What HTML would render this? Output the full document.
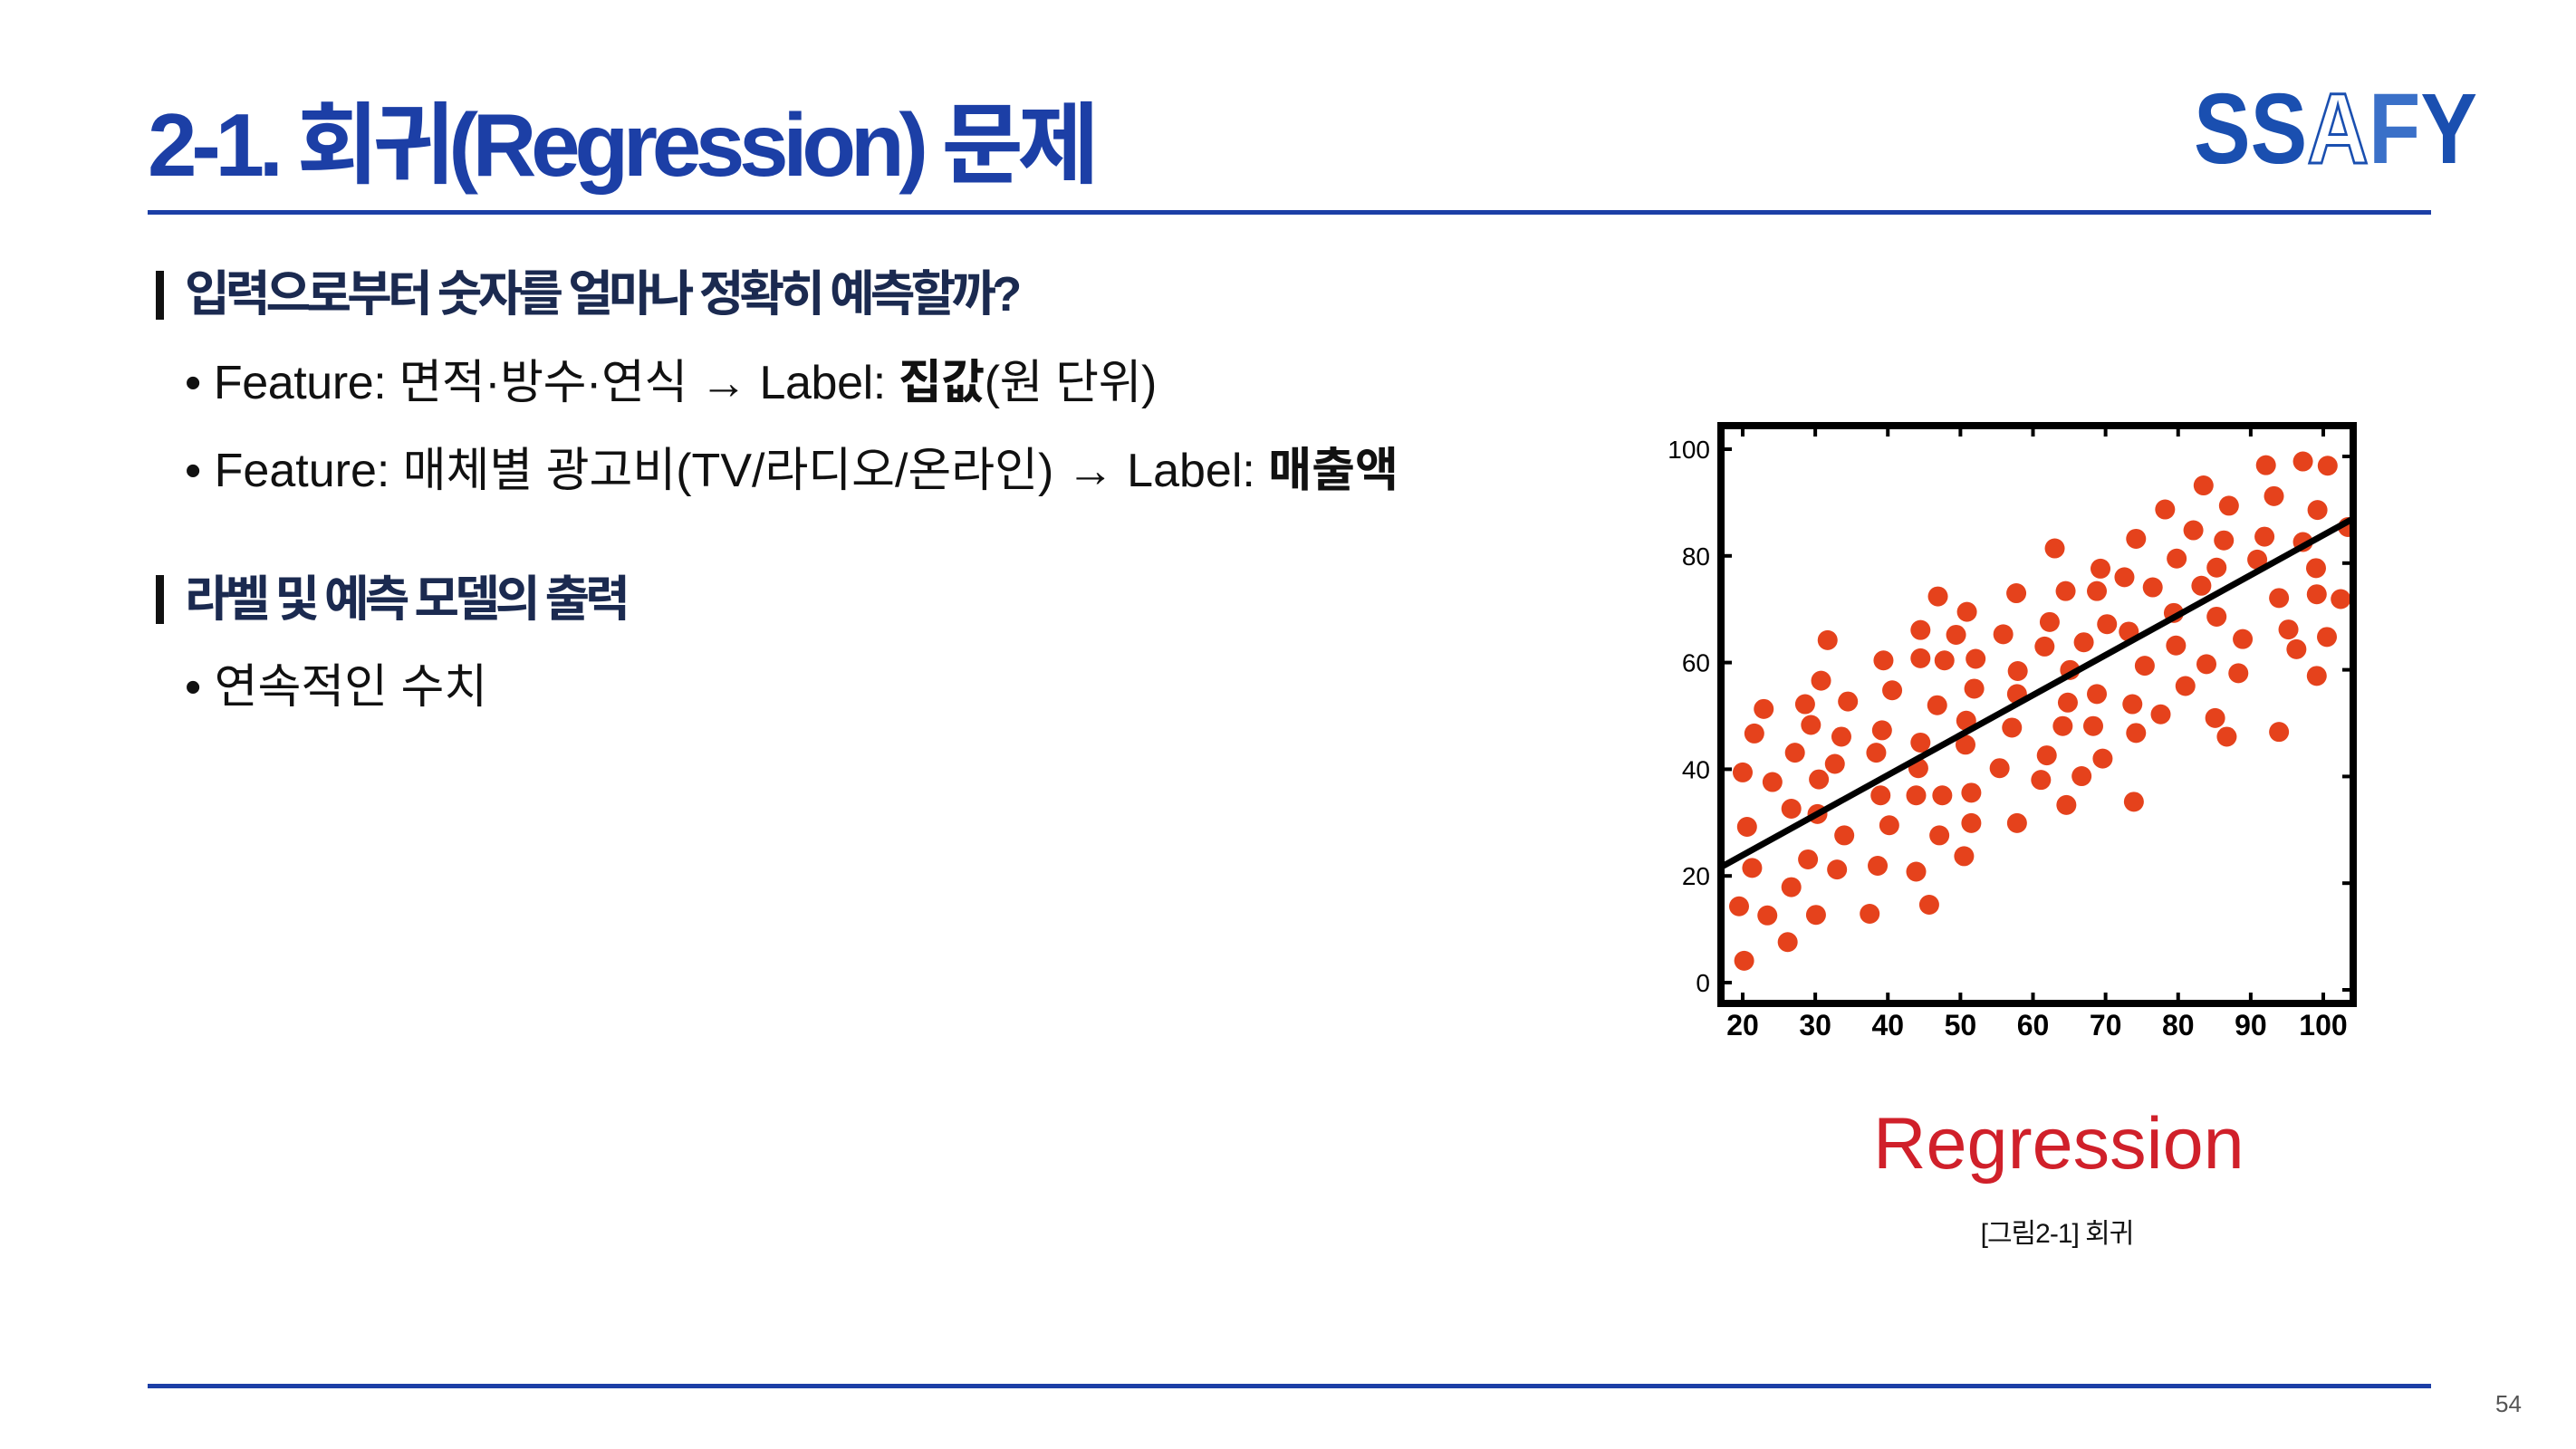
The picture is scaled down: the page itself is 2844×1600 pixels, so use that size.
<!DOCTYPE html>
<html><head><meta charset="utf-8"><style>
body{margin:0;width:2844px;height:1600px;background:#fff;position:relative;overflow:hidden;font-family:"Liberation Sans","Noto Sans CJK KR",sans-serif}
.abs{position:absolute;white-space:nowrap}
</style></head><body>
<div class="abs" style="left:163px;top:100px;font-size:98px;font-weight:bold;color:#1c3fa6;letter-spacing:-6.3px;line-height:120px">2-1. 회귀(Regression) 문제</div>
<svg class="abs" style="left:2420px;top:90px" width="330" height="100">
<text x="2" y="90" font-family="Liberation Sans" font-weight="bold" font-size="110" fill="#1a4fb0" textLength="313" lengthAdjust="spacingAndGlyphs">SS<tspan fill="#fff" stroke="#1a4fb0" stroke-width="3">A</tspan><tspan fill="#3a70c8">F</tspan>Y</text></svg>
<div class="abs" style="left:163px;top:232px;width:2521px;height:5px;background:#1c3fa6"></div>
<div class="abs" style="left:163px;top:1528px;width:2521px;height:5px;background:#1c3fa6"></div>
<div class="abs" style="left:2755px;top:1535px;font-size:26px;color:#555">54</div>

<div class="abs" style="left:172px;top:299px;width:9px;height:54px;background:#111"></div>
<div class="abs" style="left:204px;top:292px;font-size:54px;font-weight:bold;color:#1b2a50;letter-spacing:-4.9px;line-height:66px">입력으로부터 숫자를 얼마나 정확히 예측할까?</div>
<div class="abs" style="left:204px;top:390px;font-size:52px;color:#111;letter-spacing:-0.4px;line-height:66px">• Feature: 면적·방수·연식 → Label: <b>집값</b>(원 단위)</div>
<div class="abs" style="left:204px;top:487px;font-size:52px;color:#111;letter-spacing:0px;line-height:66px">• Feature: 매체별 광고비(TV/라디오/온라인) → Label: <b>매출액</b></div>
<div class="abs" style="left:172px;top:635px;width:9px;height:54px;background:#111"></div>
<div class="abs" style="left:204px;top:629px;font-size:54px;font-weight:bold;color:#1b2a50;letter-spacing:-5px;line-height:66px">라벨 및 예측 모델의 출력</div>
<div class="abs" style="left:204px;top:726px;font-size:52px;color:#111;letter-spacing:0px;line-height:66px">• 연속적인 수치</div>

<svg class="abs" id="chart" style="left:0;top:0" width="2844" height="1600"></svg>
<div class="abs" style="left:2068px;top:1213px;width:400px;text-align:center;font-size:81px;color:#d0202a;line-height:100px">Regression</div>
<div class="abs" style="left:2071px;top:1337px;width:400px;text-align:center;font-size:30px;color:#111;letter-spacing:-1px">[그림2-1] 회귀</div>
<script>
const xTicks=[20,30,40,50,60,70,80,90,100];
const yTicks=[0,20,40,60,80,100];
const xs=[20,20.6,19.5,20.2,21.6,22.9,21.3,24.1,23.4,26.2,26.7,26.7,27.2,28.6,29.4,30.5,30.8,30.3,31.7,29,30.1,32.7,33.6,34.5,34,33,37.5,38.4,39.2,39.4,40.6,39,40.2,38.6,43.9,45.7,43.9,44.2,44.5,44.5,44.5,46.8,46.9,47.8,47.5,47.1,49.4,50.9,50.8,50.7,51.9,52.1,51.5,51.5,50.5,55.9,55.4,57.1,57.9,57.8,57.7,57.8,61.1,61.9,61.6,62.3,63,64.1,64.5,64.8,65.1,64.6,66.7,67,68.8,69.3,68.8,68.3,69.6,70.2,72.6,73.2,74.2,73.7,74.2,73.9,75.4,76.5,77.6,78.2,79.4,79.8,79.7,81,82.1,83.5,83.2,83.9,85.1,85.3,85.3,86.3,87,86.7,88.3,88.9,90.9,91.9,92.1,93.2,93.9,93.9,95.2,96.3,97.2,97.2,99,99.2,99.1,99.1,100.5,100.6,102.4,103.4];
const ys=[39.4,29.2,14.3,4.1,46.7,51.3,21.5,37.6,12.6,7.6,17.9,32.6,43.1,52.2,48.3,38.1,56.6,31.6,64.2,23.1,12.7,41,46.1,52.7,27.6,21.2,12.9,43.1,47.3,60.4,54.8,35.1,29.5,21.9,20.8,14.6,35.1,40.2,45,60.8,66.1,52,72.4,60.4,35.1,27.6,65.2,69.5,49.1,44.6,55.1,60.7,35.6,29.9,23.7,65.3,40.2,47.8,58.4,54.1,73,29.9,38,42.6,63,67.6,81.4,48.1,73.4,52.5,58.6,33.3,38.7,63.8,73.4,77.6,54.1,48.1,42,67.2,76,65.8,83.2,52.2,46.8,33.9,59.4,74.1,50.3,88.7,69.3,79.5,63.2,55.6,84.8,93.2,74.4,59.7,49.6,77.8,68.6,82.9,89.4,46.1,58,64.4,79.3,83.6,97,91.2,72.1,47,66.2,62.5,97.7,82.6,77.7,88.6,72.8,57.5,64.8,96.9,71.9,85.4];
const lineX=[17,103.8];
const intercept=8.9, slope=0.75;
const L=1900,R=2598,T=470,B=1108;
const sx=v=>1924+(v-20)*(2565-1924)/80;
const sy=v=>1085-v*5.89;
const svg=document.getElementById('chart');
const NS='http://www.w3.org/2000/svg';
function mk(t,a){const e=document.createElementNS(NS,t);for(const k in a)e.setAttribute(k,a[k]);svg.appendChild(e);return e;}
const clip=mk('clipPath',{id:'pc'});const cr=document.createElementNS(NS,'rect');cr.setAttribute('x',L);cr.setAttribute('y',T);cr.setAttribute('width',R-L);cr.setAttribute('height',B-T);clip.appendChild(cr);
const g=mk('g',{'clip-path':'url(#pc)'});
for(let i=0;i<xs.length;i++){
 const c=document.createElementNS(NS,'circle');
 c.setAttribute('cx',sx(xs[i]));c.setAttribute('cy',sy(ys[i]));c.setAttribute('r',11);c.setAttribute('fill','#e5421c');
 
 
 g.appendChild(c);
}
const ln=document.createElementNS(NS,'line');
ln.setAttribute('x1',sx(lineX[0]));ln.setAttribute('y1',sy(intercept+slope*lineX[0]));ln.setAttribute('x2',sx(lineX[1]));ln.setAttribute('y2',sy(intercept+slope*lineX[1]));
ln.setAttribute('stroke','#000');ln.setAttribute('stroke-width',7);


g.appendChild(ln);
const fr=mk('rect',{x:L,y:T,width:R-L,height:B-T,fill:'none',stroke:'#000','stroke-width':8});


xTicks.forEach(v=>{
 mk('line',{x1:sx(v),x2:sx(v),y1:B,y2:B-12,stroke:'#000','stroke-width':4});
 mk('line',{x1:sx(v),x2:sx(v),y1:T,y2:T+12,stroke:'#000','stroke-width':4});
 const t=mk('text',{x:sx(v),y:B+35,'text-anchor':'middle','font-size':32,'font-weight':'bold','font-family':'Liberation Sans'});
 t.textContent=v;
 
 
});
yTicks.forEach(v=>{
 mk('line',{x1:L,x2:L+12,y1:sy(v),y2:sy(v),stroke:'#000','stroke-width':4});
 mk('line',{x1:R,x2:R-12,y1:sy(v)+8,y2:sy(v)+8,stroke:'#000','stroke-width':4});
 const t=mk('text',{x:L-12,y:sy(v)+10,'text-anchor':'end','font-size':28,'font-family':'Liberation Sans'});
 t.textContent=v;
 
 
});
</script>
</body></html>
